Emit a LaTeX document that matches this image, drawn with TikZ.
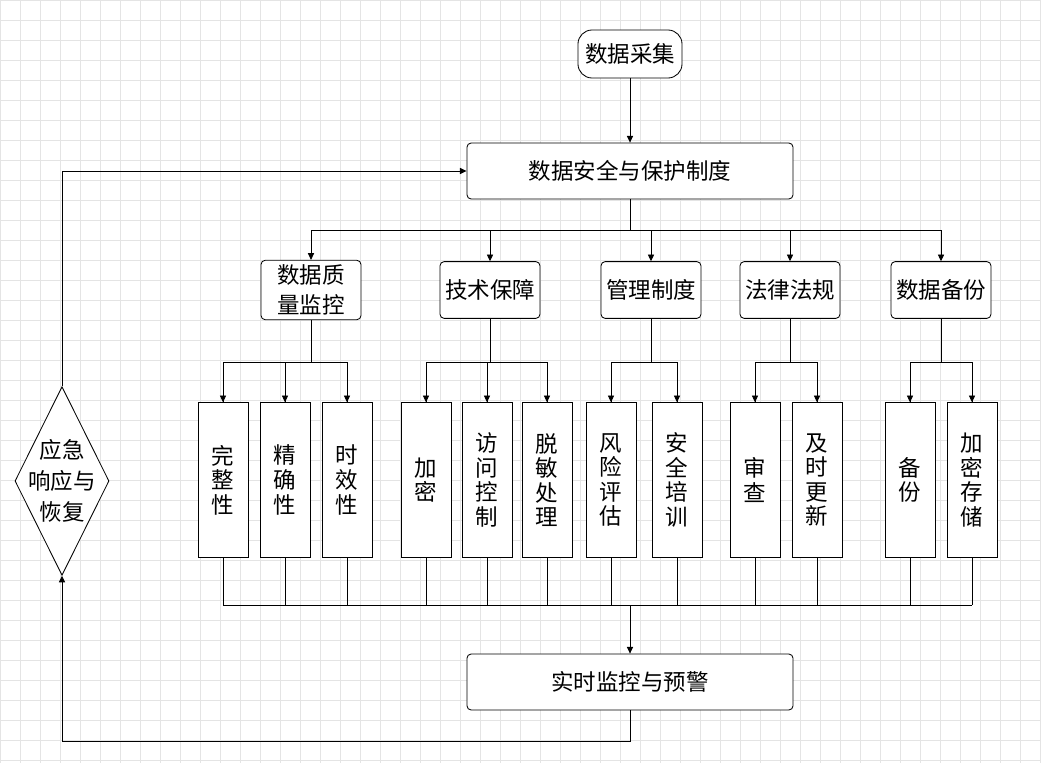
\documentclass[tikz,border=0pt]{standalone}
\usepackage{fontspec}
\setmainfont{Noto Sans CJK SC}
\usetikzlibrary{arrows.meta,positioning,shapes.geometric}
\definecolor{Grid}{HTML}{e4e4e4}

\begin{document}
\begin{tikzpicture}[
        x=0.025cm, y=-0.025cm,
        font=\fontsize{16}{19}\selectfont,
        >={Triangle[angle=50:4pt 2]},
        %Environment Styles.
        tBox/.style={
            rectangle,
            rounded corners=3pt,
            draw=black,
            fill=white,
            minimum width=8.15cm,
            minimum height=1.4cm
        },
        mBox/.style={
            rectangle,
            rounded corners=3pt,
            draw=black,
            fill=white,
            align=center,
            minimum width=2.5cm,
            minimum height=1.42cm
        },
        lBox/.style={
            rectangle,
            draw=black,
            fill=white,
            align=center,
            inner sep=1pt,
            font=\fontsize{16}{17.5}\selectfont,
            minimum width=1.25cm,
            minimum height=3.87cm
        },
        line/.style={line width=0.6pt, black}
    ]
    \useasboundingbox (0,0) rectangle (1041,763);
    \fill[white] (0,0) rectangle (1041,763);
    \draw[Grid, step=0.5cm] (0,0) grid (1041,763);

    %Top part.
    \node[tBox, line width=0.6pt, minimum width=2.6cm, minimum height=1.2cm, rounded corners=10pt] (SRC) at (630,54) {数据采集};
    \node[tBox, line width=0.6pt] (SEC) at (630,171) {数据安全与保护制度};
    \node[tBox, line width=0.6pt] (MON) at (630,682) {实时监控与预警};
    \node[diamond, draw, line width=0.6pt, fill=white, aspect=0.48, inner sep=-4pt, minimum width=2.35cm, align=center,
        font=\fontsize{16}{22}\selectfont] (EMG) at (62,481) {应急\\响应与\\恢复};

    %Second level.
    \node[mBox, line width=0.6pt, font=\fontsize{16}{21}\selectfont] (M1) at (311,290) {数据质\\量监控};
    \node[mBox, line width=0.6pt] (M2) at (490,290) {技术保障};
    \node[mBox, line width=0.6pt] (M3) at (651,290) {管理制度};
    \node[mBox, line width=0.6pt] (M4) at (790,290) {法律法规};
    \node[mBox, line width=0.6pt] (M5) at (941,290) {数据备份};

    \draw[line, ->] (SRC) -- (SEC);
    \draw[line] (SEC.south) -- (630,230) coordinate (J0);
    \draw[line] (311,230) -- (941,230);
    \foreach \m in {1,...,5}
        \draw[line, ->] (M\m.north |- J0) -- (M\m.north);

    %Leaves: name/x/parent/text
    \foreach \n/\x/\p/\t in {
        L1/223/1/完\\整\\性, L2/285/1/精\\确\\性, L3/347/1/时\\效\\性,
        L4/426/2/加\\密, L5/487/2/访\\问\\控\\制, L6/547/2/脱\\敏\\处\\理,
        L7/611/3/风\\险\\评\\估, L8/677/3/安\\全\\培\\训,
        L9/755/4/审\\查, L10/817/4/及\\时\\更\\新,
        L11/910/5/备\\份, L12/972/5/加\\密\\存\\储}{
        \node[lBox, line width=0.6pt] (\n) at (\x,480) {\t};
        \draw[line] (M\p.south) -- (M\p.south |- 0,362) -| (\n.north);
        \draw[line, ->] (\n.north |- 0,362) -- (\n.north);
        \draw[line] (\n.south) -- (\n.south |- 0,605);
    }
    \draw[line] (L1.south |- 0,605) coordinate (J1) -- (L12.south |- 0,605);
    \draw[line, ->] (MON.north |- J1) -- (MON.north);

    %Feedback loop.
    \draw[line, ->] (MON.south) -- (630,741) -- (EMG.south |- 0,741) -- (EMG.south);
    \draw[line, ->] (EMG.north) |- (SEC.west);
\end{tikzpicture}
\end{document}
